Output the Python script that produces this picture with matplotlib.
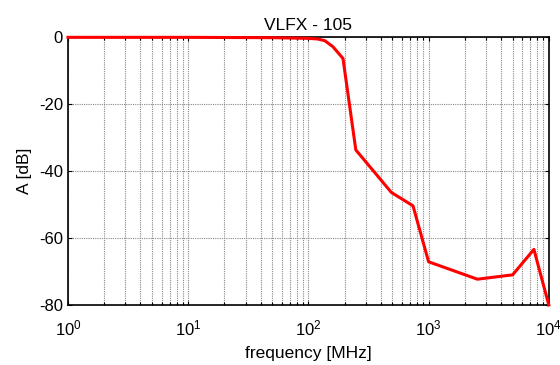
import matplotlib.pyplot as plt
from matplotlib.ticker import LogLocator, NullFormatter

plt.rcParams['font.family'] = ['Liberation Sans', 'DejaVu Sans']
plt.rcParams['mathtext.fontset'] = 'custom'
plt.rcParams['mathtext.rm'] = 'Liberation Sans'
plt.rcParams['axes.unicode_minus'] = False

freq = [1, 10, 50, 100, 120, 137, 160, 194, 248, 490, 742, 1000, 2545, 5000, 7520, 10000]
atten = [-0.1, -0.1, -0.2, -0.4, -0.6, -1.1, -2.9, -6.4, -33.7, -46.4, -50.4, -67.1, -72.3, -71.0, -63.4, -80.0]

fig = plt.figure(figsize=(5.6, 3.65), dpi=100)
ax = fig.add_axes([0.1214, 0.1644, 0.8586, 0.7342])

ax.plot(freq, atten, color="red", lw=2.2, clip_on=False, zorder=3)

ax.set_xscale("log")
ax.set_xlim(1, 1e4)
ax.set_ylim(-80, 0)
ax.set_yticks([-80, -60, -40, -20, 0])
ax.xaxis.set_major_locator(LogLocator(base=10, numticks=10))
ax.xaxis.set_minor_locator(LogLocator(base=10, subs=range(2, 10), numticks=20))
ax.xaxis.set_minor_formatter(NullFormatter())

ax.grid(True, which="major", axis="both", color="#888888", ls=(0, (1, 1)), lw=0.8)
ax.grid(True, which="minor", axis="x", color="#888888", ls=(0, (1, 1)), lw=0.8)

ax.tick_params(which="both", direction="in", top=True, right=True, labelsize=12, width=0.8)
ax.tick_params(which="major", length=3)
ax.tick_params(which="minor", length=2)
ax.tick_params(axis="x", which="major", pad=10)
for s in ax.spines.values():
    s.set_linewidth(1.2)

ax.set_title("VLFX - 105", fontsize=12.5, pad=5)
ax.set_xlabel("frequency [MHz]", fontsize=12.5, labelpad=5)
ax.set_ylabel("A [dB]", fontsize=12.5, labelpad=5)

fig.savefig("out.png", dpi=100)
